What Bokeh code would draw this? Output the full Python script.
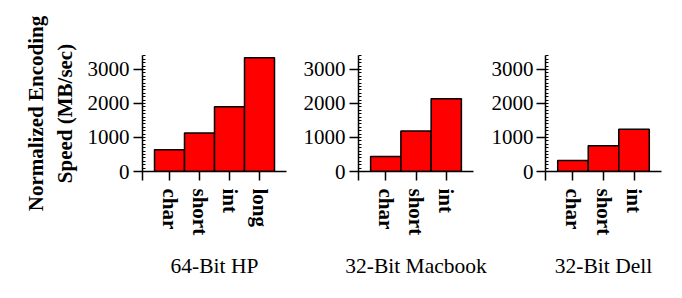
import math
from bokeh.plotting import figure
from bokeh.layouts import row
from bokeh.models import FixedTicker, Range1d
from bokeh.embed import file_html
from bokeh.resources import INLINE

# ---- data ----
hp_types = ["char", "short", "int", "long"]
hp_speed = [640, 1135, 1900, 3345]
mac_types = ["char", "short", "int"]
mac_speed = [442, 1192, 2136]
dell_types = ["char", "short", "int"]
dell_speed = [324, 758, 1239]
titles = ["64-Bit HP", "32-Bit Macbook", "32-Bit Dell"]
y_ticks = [0, 1000, 2000, 3000]
y_label = "Normalized Encoding\nSpeed (MB/sec)"

FONT = "Liberation Serif"
Y_START, Y_END = 0, 3410
BAR_W = 10      # x units per bar
PAD = 4         # x units of padding each side


def panel(types, speeds, title, frame_w, border_l, border_r, ylabel=None, ystand=4):
    n = len(types)
    xs = [PAD + BAR_W * i + BAR_W // 2 for i in range(n)]
    x_end = 2 * PAD + BAR_W * n
    p = figure(frame_width=frame_w, frame_height=116,
               min_border_left=border_l, min_border_right=border_r,
               min_border_top=55, min_border_bottom=0,
               x_range=Range1d(0, x_end), y_range=Range1d(Y_START, Y_END),
               output_backend="svg", toolbar_location=None)
    p.outline_line_color = None
    p.grid.visible = False
    p.background_fill_color = "white"
    p.border_fill_color = "white"

    p.vbar(x=xs, top=speeds, bottom=0, width=BAR_W,
           fill_color="#FF0000", line_color="black", line_width=1.5)

    # x axis; the extra tick at x=0 extends the y-axis line below zero
    xa = p.xaxis[0]
    xa.ticker = FixedTicker(ticks=[0] + xs)
    overrides = {0: ""}
    overrides.update({x: t for x, t in zip(xs, types)})
    xa.major_label_overrides = overrides
    xa.major_label_orientation = -math.pi / 2
    xa.major_tick_out = 9
    xa.major_tick_in = 0
    xa.minor_tick_out = 0
    xa.minor_tick_in = 0
    xa.axis_line_width = 1.5
    xa.major_tick_line_width = 1.5
    xa.major_label_standoff = 8
    xa.major_label_text_font = FONT
    xa.major_label_text_font_style = "bold"
    xa.major_label_text_font_size = "21px"
    xa.major_label_text_color = "black"
    xa.axis_label = title
    xa.axis_label_standoff = 16
    xa.axis_label_text_font = FONT
    xa.axis_label_text_font_style = "normal"
    xa.axis_label_text_font_size = "21.5px"
    xa.axis_label_text_color = "black"

    # y axis
    ya = p.yaxis[0]
    ya.ticker = FixedTicker(ticks=y_ticks, minor_ticks=list(range(0, 3401, 100)))
    ya.major_tick_out = 9
    ya.major_tick_in = 0
    ya.minor_tick_out = 0
    ya.minor_tick_in = 3
    ya.axis_line_width = 1.5
    ya.major_tick_line_width = 1.5
    ya.minor_tick_line_width = 1
    ya.major_label_standoff = ystand
    ya.major_label_text_font = FONT
    ya.major_label_text_font_size = "21px"
    ya.major_label_text_color = "black"
    if ylabel:
        ya.axis_label = ylabel
        ya.axis_label_text_font = FONT
        ya.axis_label_text_font_style = "bold"
        ya.axis_label_text_font_size = "21px"
        ya.axis_label_text_color = "black"
        ya.axis_label_standoff = 8
    return p


p1 = panel(hp_types, hp_speed, titles[0], 144, 142, 4, ylabel=y_label)
p2 = panel(mac_types, mac_speed, titles[1], 115, 68, 15)
p3 = panel(dell_types, dell_speed, titles[2], 116, 57, 21, ystand=3)

layout = row(p1, p2, p3)
open("out.html", "w").write(file_html(layout, INLINE))
